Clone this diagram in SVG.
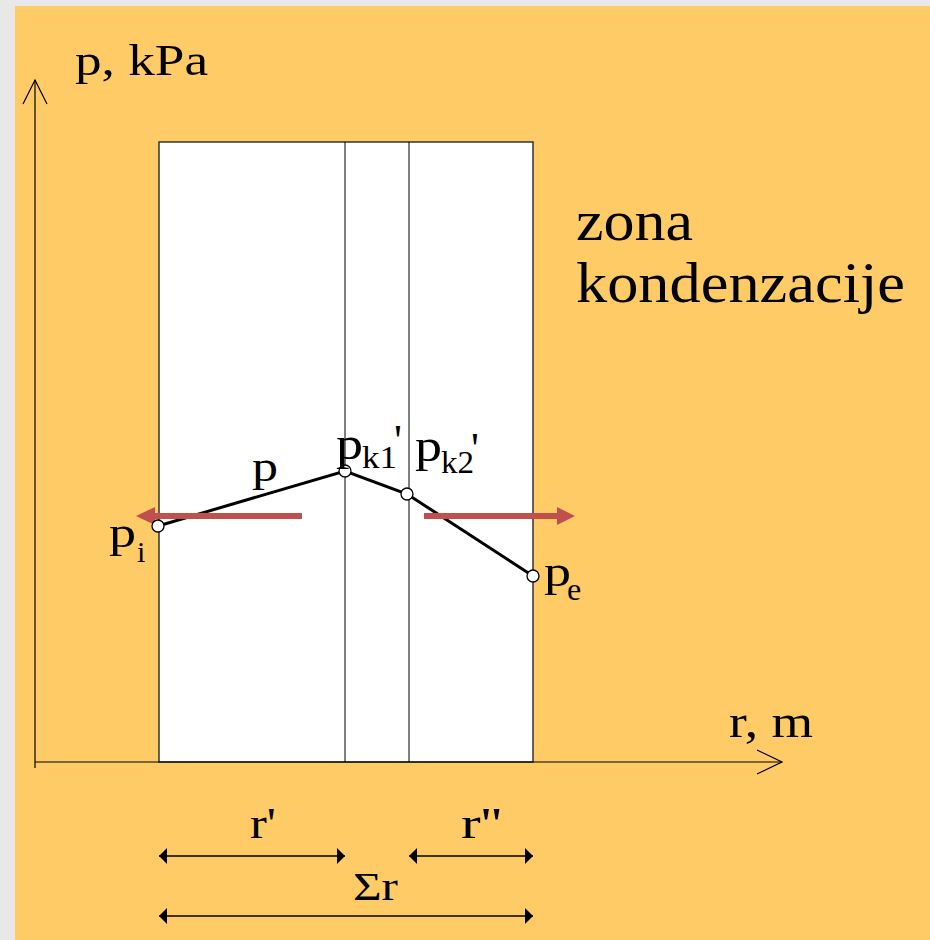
<svg xmlns="http://www.w3.org/2000/svg" width="930" height="940" viewBox="0 0 930 940">
<defs>
<style>
.t{font-family:"Liberation Serif","Times New Roman",serif;fill:#000}
.ax{stroke:#000;stroke-width:1.2;fill:none}
.pt{fill:#fff;stroke:#000;stroke-width:1.3}
.red{stroke:#C0504D;stroke-width:6;fill:none}
.dim{stroke:#000;stroke-width:1.5;fill:none}
</style>
<marker id="dh" viewBox="0 0 8 16" refX="8" refY="8" markerWidth="8" markerHeight="16" markerUnits="userSpaceOnUse" orient="auto-start-reverse">
<path d="M0,0 L8,8 L0,16 Z" fill="#000"/>
</marker>
</defs>
<rect x="0" y="0" width="930" height="940" fill="#E8E8E8"/>
<rect x="15" y="6" width="915" height="934" fill="#FECB66"/>

<g id="chart">
<rect x="159" y="142" width="374" height="620" fill="#fff" stroke="#333" stroke-width="1.5"/>
<line x1="345" y1="142" x2="345" y2="762" stroke="#000" stroke-width="1"/>
<line x1="409" y1="142" x2="409" y2="762" stroke="#000" stroke-width="1"/>
</g>

<g id="axes">
<line class="ax" x1="35" y1="80" x2="35" y2="768"/>
<polyline class="ax" points="23,104 35,80 47,104"/>
<line class="ax" x1="35" y1="762" x2="782" y2="762"/>
<polyline class="ax" points="757,750 782,762 757,774"/>
<text class="t" x="75" y="75" font-size="44" textLength="133" lengthAdjust="spacingAndGlyphs">p, kPa</text>
<text class="t" x="729" y="737" font-size="46" textLength="84" lengthAdjust="spacingAndGlyphs">r, m</text>
</g>

<g id="zone">
<text class="t" x="576" y="240" font-size="56" textLength="117" lengthAdjust="spacingAndGlyphs">zona</text>
<text class="t" x="576" y="302" font-size="56" textLength="329" lengthAdjust="spacingAndGlyphs">kondenzacije</text>
</g>

<g id="connectors">
<polyline points="158,526 345,471 407,494 533,576" fill="none" stroke="#000" stroke-width="3"/>
<line class="red" x1="302" y1="516" x2="152" y2="516"/>
<polygon points="136,516 155,507 155,525" fill="#C0504D"/>
<line class="red" x1="424" y1="516" x2="560" y2="516"/>
<polygon points="575,516 557,507 557,525" fill="#C0504D"/>
<line class="dim" x1="159" y1="856" x2="345" y2="856" marker-start="url(#dh)" marker-end="url(#dh)"/>
<line class="dim" x1="409" y1="856" x2="533" y2="856" marker-start="url(#dh)" marker-end="url(#dh)"/>
<line class="dim" x1="159" y1="916" x2="533" y2="916" marker-start="url(#dh)" marker-end="url(#dh)"/>
</g>

<g id="pi">
<circle class="pt" cx="158" cy="526" r="6"/>
<text class="t" x="109" y="547" font-size="44" textLength="27" lengthAdjust="spacingAndGlyphs">p</text>
<text class="t" x="137" y="562" font-size="30">i</text>
</g>
<g id="pk1">
<circle class="pt" cx="345" cy="471" r="6"/>
<text class="t" x="336" y="459" font-size="46" textLength="27" lengthAdjust="spacingAndGlyphs">p</text>
<text class="t" x="362" y="468" font-size="31" textLength="35" lengthAdjust="spacingAndGlyphs">k1</text>
<text class="t" x="394" y="455" font-size="44">'</text>
</g>
<g id="pk2">
<circle class="pt" cx="407" cy="494" r="6"/>
<text class="t" x="415" y="461" font-size="46" textLength="27" lengthAdjust="spacingAndGlyphs">p</text>
<text class="t" x="441" y="473" font-size="31" textLength="33" lengthAdjust="spacingAndGlyphs">k2</text>
<text class="t" x="471" y="463" font-size="44">'</text>
</g>
<g id="pe">
<circle class="pt" cx="533" cy="576" r="6"/>
<text class="t" x="544" y="586" font-size="44" textLength="27" lengthAdjust="spacingAndGlyphs">p</text>
<text class="t" x="567" y="600" font-size="32">e</text>
</g>
<g id="plabel">
<text class="t" x="252" y="481" font-size="44" textLength="26" lengthAdjust="spacingAndGlyphs">p</text>
</g>

<g id="dims">
<text class="t" x="250" y="838" font-size="44" textLength="26" lengthAdjust="spacingAndGlyphs">r'</text>
<text class="t" x="461" y="838" font-size="44" textLength="41" lengthAdjust="spacingAndGlyphs">r''</text>
<text class="t" x="353" y="900" font-size="40" textLength="45" lengthAdjust="spacingAndGlyphs">Σr</text>
</g>
</svg>
